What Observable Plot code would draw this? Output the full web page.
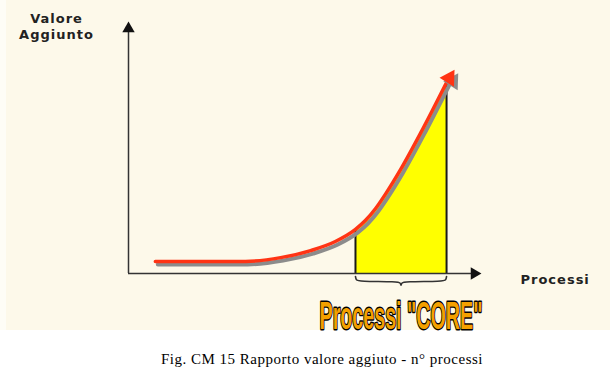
<!DOCTYPE html>
<html><head><meta charset="utf-8">
<script src="https://cdn.jsdelivr.net/npm/d3@7"></script>
<script src="https://cdn.jsdelivr.net/npm/@observablehq/plot@0.6"></script>
<style>
body{margin:0;background:#fff;width:610px;height:376px;position:relative;overflow:hidden}
#chart svg{display:block}
#strip{position:absolute;left:0;top:0;width:6px;height:330px;background:#fefdf6}
#caption{position:absolute;left:17px;top:352px;width:610px;text-align:center;font:15px "Liberation Serif","Times New Roman",serif;line-height:15px;letter-spacing:0.5px;color:#000}
</style></head><body>
<div id="chart"></div><div id="strip"></div>
<div id="caption">Fig. CM 15 Rapporto valore aggiuto - n° processi</div>
<script>
// Data (x: processi, y: valore aggiunto, both 0–100)
const processi = [7.6, 33.1, 43.1, 51.6, 58.6, 64.3, 67.1, 70.0, 72.8, 77.1, 82.7, 90.1];
const valore   = [4.8, 4.8, 6.3, 9.1, 12.7, 17.5, 21.0, 25.8, 31.5, 41.3, 55.6, 75.8];
const core = [64.3, 90.1];         // range of "CORE" processes
const yLabel = "Valore\nAggiunto";
const xLabel = "Processi";
const coreLabel = 'Processi "CORE"';
const axisEnd = 100;

const curve = processi.map((x, i) => ({x, y: valore[i]}));
const coreArea = curve.filter(d => d.x >= core[0] && d.x <= core[1]);
const valueAt = x => curve.find(d => d.x === x).y;
const coreRules = core.map(x => ({x, y: valueAt(x)}));
const last = curve[curve.length - 1];
const mid = (core[0] + core[1]) / 2;
const c0 = core[0], c1 = core[1];
const brace = [[c0,-1.2],[c0+0.2,-2.6],[c0+0.8,-3.2],[mid-0.8,-3.2],[mid-0.1,-3.8],[mid,-5],
               [mid+0.1,-3.8],[mid+0.8,-3.2],[c1-0.8,-3.2],[c1-0.2,-2.6],[c1,-1.2]].map(([x,y])=>({x,y}));

const RED = "#ff3414", GRAY = "#8c8c8c", AX = "#333";
const bold = {fontFamily: "DejaVu Sans, Verdana, sans-serif", fontWeight: "bold", fontSize: 13, fill: "#222"};

const plot = Plot.plot({
  width: 610, height: 376,
  marginLeft: 128, marginRight: 129, marginTop: 21, marginBottom: 103,
  x: {domain: [0, 100], axis: null},
  y: {domain: [0, 100], axis: null},
  style: {background: "linear-gradient(#fdf9ea 0px, #fdf9ea 330px, #ffffff 330px)", overflow: "visible"},
  marks: [
    Plot.areaY(coreArea, {x: "x", y: "y", fill: "#ffff00", curve: "monotone-x"}),
    Plot.ruleX(coreRules, {x: "x", y1: 0, y2: "y", stroke: "#1a1a1a", strokeWidth: 2}),
    Plot.line(curve, {x: "x", y: "y", stroke: GRAY, strokeWidth: 4, dx: 2.5, dy: 3, curve: "monotone-x"}),
    Plot.line(curve, {x: "x", y: "y", stroke: RED, strokeWidth: 3.5, curve: "monotone-x"}),
    Plot.dot([last], {x: "x", y: "y", symbol: "triangle", r: 6.3, rotate: 32, fill: GRAY, dx: 6.5, dy: -1}),
    Plot.dot([last], {x: "x", y: "y", symbol: "triangle", r: 6.3, rotate: 32, fill: RED, dx: 2.8, dy: -4.4}),
    // axes
    Plot.ruleX([0], {y1: 0, y2: axisEnd - 2, stroke: AX, strokeWidth: 1.5}),
    Plot.ruleY([0], {x1: 0, x2: axisEnd - 2, stroke: AX, strokeWidth: 1.5}),
    Plot.dot([{x: 0, y: axisEnd}], {x: "x", y: "y", symbol: "triangle", r: 4.6, fill: "#111", dy: 7.2}),
    Plot.dot([{x: axisEnd, y: 0}], {x: "x", y: "y", symbol: "triangle", r: 4.6, rotate: 90, fill: "#111", dx: -7.2}),
    // brace
    Plot.line(brace, {x: "x", y: "y", stroke: AX, strokeWidth: 1.6, curve: "basis"}),
    // labels
    Plot.text([yLabel], {frameAnchor: "top-left", dx: -72, dy: 17, lineAnchor: "bottom", textAnchor: "middle", lineHeight: 1.23, ...bold}),
    Plot.text([xLabel], {frameAnchor: "bottom-left", dx: 392, dy: 10, lineAnchor: "bottom", textAnchor: "start", ...bold}),
    Plot.text([coreLabel], {x: mid, y: 0, dy: 55, lineAnchor: "bottom", textAnchor: "middle",
      fontFamily: "Liberation Sans Narrow, Liberation Sans, Arial, sans-serif", fontWeight: "bold", fontSize: 38,
      fill: "#f4a000", stroke: "#000", strokeWidth: 2, paintOrder: "stroke"})
  ]
});
document.getElementById("chart").appendChild(plot);
plot.querySelectorAll("text").forEach(t => {
  if (t.textContent.includes("Valore") || t.textContent === xLabel) t.setAttribute("letter-spacing", 1);
  if (t.textContent.includes("CORE")) {
    const len = t.getComputedTextLength();
    const k = len > 0 ? 163 / len : 0.62;
    const tr = t.getAttribute("transform") || "";
    t.setAttribute("transform", tr + ` scale(${k.toFixed(4)},1)`);
    t.setAttribute("stroke-width", (2 / Math.sqrt(k)).toFixed(2));
  }
});
</script>
</body></html>
